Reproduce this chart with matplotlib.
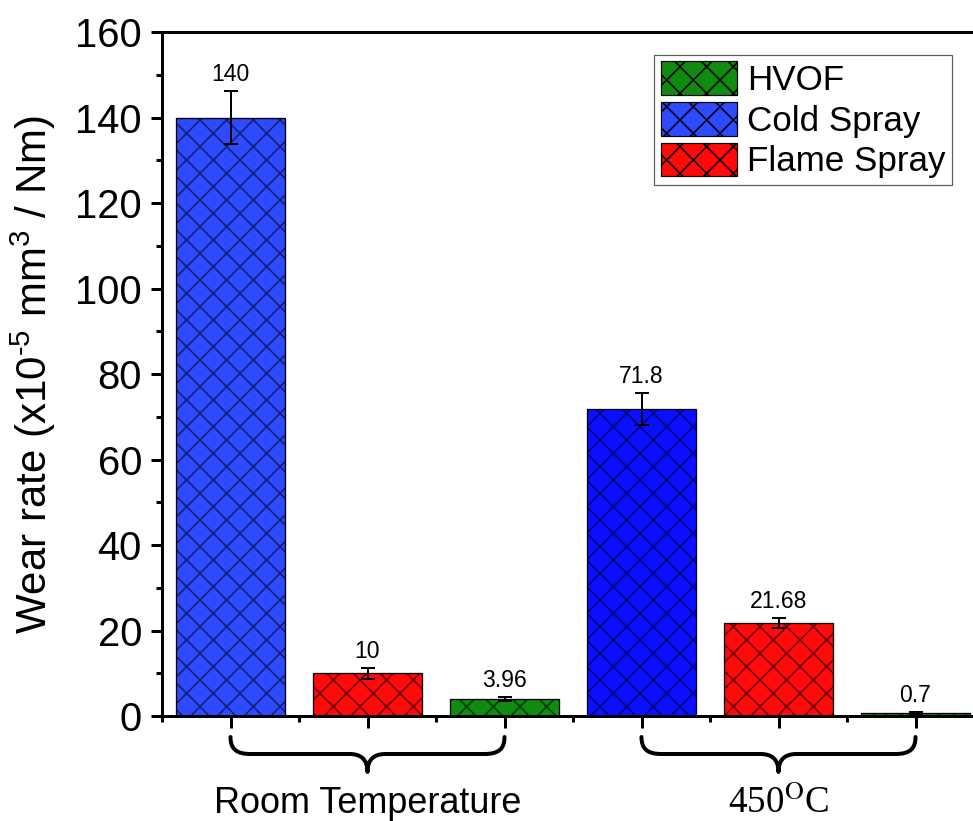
import matplotlib
matplotlib.use("Agg")
import matplotlib.pyplot as plt
from matplotlib.patches import Patch, PathPatch
from matplotlib.path import Path
from matplotlib.transforms import blended_transform_factory
from matplotlib.ticker import MultipleLocator, FixedLocator, NullFormatter

# ---- data -------------------------------------------------------------
conditions = ["Room Temperature", "450$^{\\mathrm{O}}$C"]
series = ["HVOF", "Cold Spray", "Flame Spray"]
# bar order inside each condition group
rt_order = ["Cold Spray", "Flame Spray", "HVOF"]
ht_order = ["Cold Spray", "Flame Spray", "HVOF"]
rt_values = [140, 10, 3.96]
rt_errors = [6.2, 1.3, 0.55]
ht_values = [71.8, 21.68, 0.7]
ht_errors = [3.7, 1.2, 0.15]
value_labels = ["140", "10", "3.96", "71.8", "21.68", "0.7"]
yticks = [0, 20, 40, 60, 80, 100, 120, 140, 160]
ylabel = "Wear rate (x10$^{\u2010 5}$ mm$^{3}$ / Nm)"

colors = {"HVOF": "#118a11", "Cold Spray": "#2d4aff", "Flame Spray": "#ff0a0a"}
ht_colors = {"HVOF": "#118a11", "Cold Spray": "#0a10ff", "Flame Spray": "#ff0a0a"}
hatch_ink = (0.0, 0.0, 0.05, 0.6)

DPI = 80
W, H = 973, 821
plt.rcParams["font.family"] = ["Liberation Sans", "DejaVu Sans"]
plt.rcParams["hatch.linewidth"] = 1.4
plt.rcParams["mathtext.fontset"] = "custom"
plt.rcParams["mathtext.rm"] = "Liberation Sans"
plt.rcParams["mathtext.it"] = "Liberation Sans:italic"

fig = plt.figure(figsize=(W / DPI, H / DPI), dpi=DPI)
px = lambda v: v * 72 / DPI  # pixels -> points

ax_left, ax_bottom, ax_top, ax_right = 162, 716, 32, 984
ax = fig.add_axes([ax_left / W, 1 - ax_bottom / H,
                   (ax_right - ax_left) / W, (ax_bottom - ax_top) / H])

values = rt_values + ht_values
errors = rt_errors + ht_errors
names = rt_order + ht_order
fills = [colors[n] for n in rt_order] + [ht_colors[n] for n in ht_order]
xpos = list(range(1, len(values) + 1))

# filled, cross-hatched bars, then a crisp black outline on top
ax.bar(xpos, values, width=0.8, color=fills, edgecolor=hatch_ink,
       linewidth=0, hatch="x", zorder=2)
ax.bar(xpos, values, width=0.8, facecolor="none", edgecolor="black",
       linewidth=px(1.3), zorder=2.5)
ax.errorbar(xpos, values, yerr=errors, fmt="none", ecolor="black",
            elinewidth=px(2), capsize=px(7), capthick=px(2), zorder=3)

for x, v, e, lab in zip(xpos, values, errors, value_labels):
    ax.annotate(lab, (x, v + e), xytext=(0, px(5)), textcoords="offset points",
                ha="center", va="bottom", fontsize=px(23))

ax.set_xlim(0.5, 6.5)
ax.set_ylim(0, 160)
ax.set_yticks(yticks)
ax.yaxis.set_minor_locator(MultipleLocator(10))
ax.xaxis.set_major_locator(FixedLocator(xpos))
ax.xaxis.set_minor_locator(FixedLocator([x + 0.5 for x in range(0, 7)]))
ax.xaxis.set_major_formatter(NullFormatter())

for side in ("left", "bottom", "top"):
    ax.spines[side].set_linewidth(px(3))
ax.spines["right"].set_visible(False)
ax.tick_params(axis="y", which="major", direction="out", length=px(11),
               width=px(3), labelsize=px(40), pad=px(9))
ax.tick_params(axis="y", which="minor", direction="out", length=px(6), width=px(3))
ax.tick_params(axis="x", which="major", direction="out", length=px(12), width=px(3))
ax.tick_params(axis="x", which="minor", direction="out", length=px(6), width=px(3))

fig.text(33 / W, 1 - 375 / H, ylabel,
         rotation=90, ha="center", va="center", fontsize=px(42))

# curly braces grouping the bars of each test condition
trans = blended_transform_factory(ax.transData, ax.transAxes)
xunit = (ax_right - ax_left) / 6.0
yunit = float(ax_bottom - ax_top)


def brace(x0, x1):
    dx = lambda p: p / xunit
    dy = lambda p: -p / yunit
    xc = (x0 + x1) / 2
    yend, ymid, ytip = dy(21), dy(38), dy(56)
    verts = [
        (x0, yend),
        (x0, dy(33)), (x0 + dx(6), ymid), (x0 + dx(20), ymid),
        (xc - dx(18), ymid),
        (xc - dx(6), ymid), (xc, dy(44)), (xc, ytip),
        (xc, dy(44)), (xc + dx(6), ymid), (xc + dx(18), ymid),
        (x1 - dx(20), ymid),
        (x1 - dx(6), ymid), (x1, dy(33)), (x1, yend),
    ]
    codes = [Path.MOVETO,
             Path.CURVE4, Path.CURVE4, Path.CURVE4,
             Path.LINETO,
             Path.CURVE4, Path.CURVE4, Path.CURVE4,
             Path.CURVE4, Path.CURVE4, Path.CURVE4,
             Path.LINETO,
             Path.CURVE4, Path.CURVE4, Path.CURVE4]
    patch = PathPatch(Path(verts, codes), facecolor="none", edgecolor="black",
                      linewidth=px(4), transform=trans, clip_on=False,
                      capstyle="round", joinstyle="round")
    ax.add_patch(patch)


brace(1, 3)
brace(4, 6)

label_y = -(813 - ax_bottom) / yunit
ax.text(2, label_y, conditions[0], transform=trans, ha="center",
        va="baseline", fontsize=px(36))
ax.text(5, label_y, conditions[1], transform=trans, ha="center",
        va="baseline", fontsize=px(37), math_fontfamily="stix",
        family="Liberation Serif")

handles = [Patch(facecolor=colors[s], edgecolor="black", hatch="x",
                 linewidth=px(1.2), label=s) for s in series]
leg = fig.legend(handles=handles, loc="upper right",
                 bbox_to_anchor=(952 / W, 1 - 55 / H), fontsize=px(35),
                 frameon=True, fancybox=False, handlelength=2.17,
                 handleheight=1.1, labelspacing=0.14, borderpad=0.18,
                 handletextpad=0.3, borderaxespad=0)
leg.get_frame().set_edgecolor("#333333")
leg.get_frame().set_linewidth(px(1.2))

fig.savefig("out.png", dpi=DPI)
